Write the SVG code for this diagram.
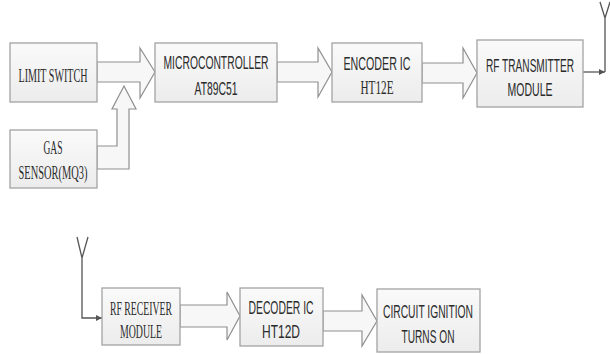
<svg xmlns="http://www.w3.org/2000/svg" width="610" height="354" viewBox="0 0 610 354">
<defs>
<linearGradient id="bg" x1="0" y1="0" x2="0" y2="1">
<stop offset="0" stop-color="#fafafa"/>
<stop offset="1" stop-color="#ececec"/>
</linearGradient>
<marker id="ah" viewBox="0 0 10 10" refX="10" refY="5" markerWidth="6" markerHeight="6" orient="auto" markerUnits="userSpaceOnUse">
<path d="M0,0 L10,5 L0,10 Z" fill="#555"/>
</marker>
<style>
.box{fill:url(#bg);stroke:#a3a3a3;stroke-width:1.3}
.blk{fill:#f7f7f7;stroke:#8f8f8f;stroke-width:1.2;stroke-linejoin:miter}
.ln{fill:none;stroke:#555;stroke-width:1.3}
.s{font-family:"Liberation Sans",Arial,sans-serif;font-size:18px;fill:#2b2b2b;text-anchor:middle}
.r{font-family:"Liberation Serif","Times New Roman",serif;font-size:19px;fill:#2b2b2b;text-anchor:middle}
</style>
</defs>
<rect width="610" height="354" fill="#ffffff"/>

<g id="connectors">
<path class="blk" d="M97,62 H140 V48 L155,72 L140,98 V82 H97 Z"/>
<path class="blk" d="M97,146 H117 V109 H112 L124,86 L136,109 H129 V169 H97 Z"/>
<path class="blk" d="M277,62 H318 V48 L332,72 L318,97 V82 H277 Z"/>
<path class="blk" d="M422,63 H463 V48 L477,73 L463,98 V83 H422 Z"/>
<path class="blk" d="M180,305 H227 V292 L240,316 L227,340 V327 H180 Z"/>
<path class="blk" d="M323,311 H362 V295 L377,321 L362,346 V331 H323 Z"/>
<path class="ln" d="M583,72 H605" marker-end="url(#ah)"/>
<path class="ln" d="M605,72 V18 M600,2 L605,18 L610,2"/>
<path class="ln" d="M77,237 L82,258 L88,237 M82,258 V318 H102" marker-end="url(#ah)"/>
</g>

<g id="limit-switch">
<rect class="box" x="10" y="43" width="87" height="59"/>
<text class="r" x="53" y="82" textLength="69" lengthAdjust="spacingAndGlyphs">LIMIT SWITCH</text>
</g>
<g id="gas-sensor">
<rect class="box" x="10" y="130" width="87" height="58"/>
<text class="r" x="53" y="154" textLength="19" lengthAdjust="spacingAndGlyphs">GAS</text>
<text class="r" x="53" y="179" textLength="69" lengthAdjust="spacingAndGlyphs">SENSOR(MQ3)</text>
</g>
<g id="microcontroller">
<rect class="box" x="155" y="43" width="122" height="59"/>
<text class="s" x="216" y="69" textLength="105" lengthAdjust="spacingAndGlyphs">MICROCONTROLLER</text>
<text class="s" x="216" y="95" textLength="43" lengthAdjust="spacingAndGlyphs">AT89C51</text>
</g>
<g id="encoder">
<rect class="box" x="332" y="43" width="90" height="59"/>
<text class="s" x="377" y="70" textLength="67" lengthAdjust="spacingAndGlyphs">ENCODER IC</text>
<text class="r" x="377" y="94" textLength="33" lengthAdjust="spacingAndGlyphs">HT12E</text>
</g>
<g id="rf-transmitter">
<rect class="box" x="477" y="40" width="106" height="67"/>
<text class="s" x="530" y="72" textLength="88" lengthAdjust="spacingAndGlyphs">RF TRANSMITTER</text>
<text class="s" x="530" y="96" textLength="45" lengthAdjust="spacingAndGlyphs">MODULE</text>
</g>
<g id="rf-receiver">
<rect class="box" x="102" y="288" width="78" height="57"/>
<text class="r" x="141" y="315" textLength="62" lengthAdjust="spacingAndGlyphs">RF RECEIVER</text>
<text class="r" x="141" y="338" textLength="42" lengthAdjust="spacingAndGlyphs">MODULE</text>
</g>
<g id="decoder">
<rect class="box" x="240" y="288" width="83" height="58"/>
<text class="s" x="281" y="314" textLength="65" lengthAdjust="spacingAndGlyphs">DECODER IC</text>
<text class="s" x="281" y="338" textLength="38" lengthAdjust="spacingAndGlyphs">HT12D</text>
</g>
<g id="circuit-ignition">
<rect class="box" x="377" y="289" width="103" height="63"/>
<text class="s" x="428" y="318" textLength="90" lengthAdjust="spacingAndGlyphs">CIRCUIT IGNITION</text>
<text class="s" x="428" y="343" textLength="53" lengthAdjust="spacingAndGlyphs">TURNS ON</text>
</g>
</svg>
